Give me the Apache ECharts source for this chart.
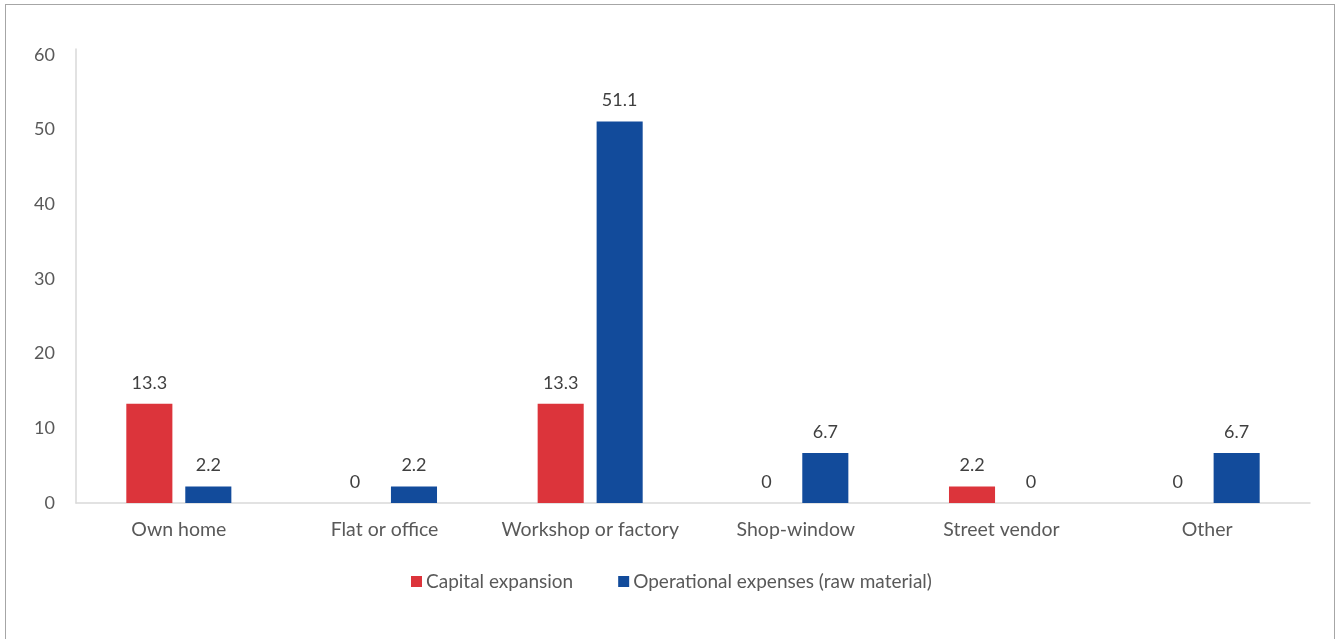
<!DOCTYPE html>
<html>
<head>
<meta charset="utf-8">
<script src="https://cdn.jsdelivr.net/npm/echarts@6/dist/echarts.min.js"></script>
<style>
  html, body { margin: 0; padding: 0; background: #ffffff; overflow: hidden; }
  #frame {
    position: absolute; left: 5px; top: 4px; width: 1330px; height: 700px;
    border: 1.5px solid #a6a6a6; box-sizing: border-box;
  }
  #chart { position: absolute; left: 0; top: 0; width: 1338px; height: 639px; }
</style>
</head>
<body>
<div id="frame"></div>
<div id="chart"></div>
<script>
// Categories and the two series of percentages
const categories = ['Own home', 'Flat or office', 'Workshop or factory', 'Shop-window', 'Street vendor', 'Other'];
const capitalExpansion = [13.3, 0, 13.3, 0, 2.2, 0];
const operationalExpenses = [2.2, 2.2, 51.1, 6.7, 0, 6.7];
const seriesNames = ['Capital expansion', 'Operational expenses (raw material)'];

const FONT = 'Lato, "Open Sans", sans-serif';
const chart = echarts.init(document.getElementById('chart'), null, { renderer: 'canvas' });

const labelStyle = {
  show: true,
  position: 'top',
  distance: 12,
  color: '#404040',
  fontSize: 18,
  fontFamily: FONT
};

chart.setOption({
  animation: false,
  grid: { left: 76, right: 28, top: 49, bottom: 136, containLabel: false },
  legend: {
    left: 406,
    top: 567,
    itemWidth: 11,
    itemHeight: 11,
    itemGap: 45,
    icon: 'rect',
    textStyle: { color: '#595959', fontSize: 19, fontFamily: FONT, padding: [0, 0, 0, -1] },
    data: seriesNames
  },
  xAxis: {
    type: 'category',
    data: categories,
    axisLine: { show: true, lineStyle: { color: '#d9d9d9', width: 1.5 } },
    axisTick: { show: false },
    axisLabel: { interval: 0, hideOverlap: false, color: '#595959', fontSize: 19.5, fontFamily: FONT, margin: 17 }
  },
  yAxis: {
    type: 'value',
    min: 0,
    max: 60.8,
    interval: 10,
    splitLine: { show: false },
    axisLine: { show: true, lineStyle: { color: '#d9d9d9', width: 1.5 } },
    axisTick: { show: false },
    axisLabel: {
      color: '#595959', fontSize: 18, fontFamily: FONT, margin: 21,
      showMaxLabel: false,
      formatter: v => (v % 10 === 0 ? String(v) : '')
    }
  },
  series: [
    {
      name: seriesNames[0],
      type: 'bar',
      data: capitalExpansion,
      barWidth: '22.4%',
      barGap: '28%',
      itemStyle: { color: '#dc343b' },
      label: labelStyle
    },
    {
      name: seriesNames[1],
      type: 'bar',
      data: operationalExpenses,
      barWidth: '22.4%',
      barGap: '28%',
      itemStyle: { color: '#124b9b' },
      label: labelStyle
    }
  ]
});
</script>
</body>
</html>
